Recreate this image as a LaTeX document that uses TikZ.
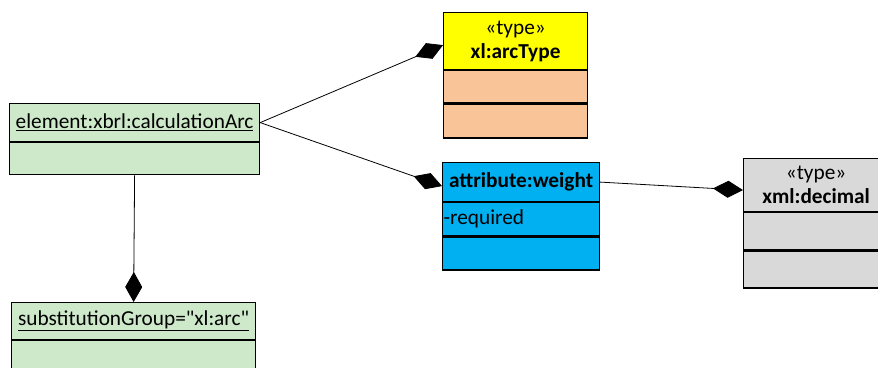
\documentclass[tikz,border=0pt]{standalone}
\usepackage{fontspec}
\setmainfont{Carlito}[Ligatures=TeXOff]
\usetikzlibrary{positioning,arrows.meta}
\definecolor{calcgreen}{RGB}{205,233,201}
\definecolor{typeyellow}{RGB}{255,255,0}
\definecolor{typepeach}{RGB}{248,196,152}
\definecolor{attrblue}{RGB}{0,176,240}
\definecolor{xmlgray}{RGB}{217,217,217}
\tikzset{
    umlpart/.style={draw=black,line width=1.2pt,inner sep=0pt,
        font=\fontsize{21.3}{24}\selectfont},
    umlhead/.style={umlpart,align=center,anchor=north west},
    compose/.style={line width=0.8pt,-{Diamond[length=30pt,width=17pt]}}
}
\begin{document}
\begin{tikzpicture}[x=1pt,y=-1pt]
    \useasboundingbox (0,0) rectangle (878,367);
    \clip (0,0) rectangle (878,367);
    % element box
    \node[umlhead,fill=calcgreen,minimum width=250pt,minimum height=38pt]
        (calc) at (9,103) {\underline{element:xbrl:calculationArc}};
    \node[umlpart,fill=calcgreen,minimum width=250pt,minimum height=32pt,
        below=0pt of calc] (calcops) {};
    % substitution group box
    \node[umlhead,fill=calcgreen,minimum width=244pt,minimum height=37pt]
        (subst) at (11,302) {\underline{substitutionGroup="xl:arc"}};
    \node[umlpart,fill=calcgreen,minimum width=244pt,minimum height=36pt,
        below=0pt of subst] (substops) {};
    % arc type
    \node[umlhead,fill=typeyellow,minimum width=144pt,minimum height=57pt]
        (arctype) at (443,12) {«type»\\\textbf{xl:arcType}};
    \node[umlpart,fill=typepeach,minimum width=144pt,minimum height=32pt,
        below=0pt of arctype] (arcattr) {};
    \node[umlpart,fill=typepeach,minimum width=144pt,minimum height=34pt,
        below=0pt of arcattr] (arcops) {};
    % weight attribute
    \node[umlhead,fill=attrblue,minimum width=157pt,minimum height=39pt]
        (weight) at (442,162) {\textbf{attribute:weight}};
    \node[umlpart,fill=attrblue,text width=155pt,inner xsep=1pt,align=left,
        minimum height=33pt,below=0pt of weight] (weightattr) {-required};
    \node[umlpart,fill=attrblue,minimum width=157pt,minimum height=33pt,
        below=0pt of weightattr] (weightops) {};
    % decimal type
    \node[umlhead,fill=xmlgray,minimum width=145pt,minimum height=53pt]
        (decimal) at (743,158) {«type»\\\textbf{xml:decimal}};
    \node[umlpart,fill=xmlgray,minimum width=145pt,minimum height=37pt,
        below=0pt of decimal] (decattr) {};
    \node[umlpart,fill=xmlgray,minimum width=145pt,minimum height=37pt,
        below=0pt of decattr] (decops) {};
    % compositions
    \draw[compose] (calc.east) -- ([yshift=-4pt]arctype.west);
    \draw[compose] (calc.east) -- ([yshift=-4pt]weight.west);
    \draw[compose] (weight.east) -- ([yshift=-5pt]decimal.west);
    \draw[compose] (calcops.south) -- (subst.north);
\end{tikzpicture}
\end{document}
